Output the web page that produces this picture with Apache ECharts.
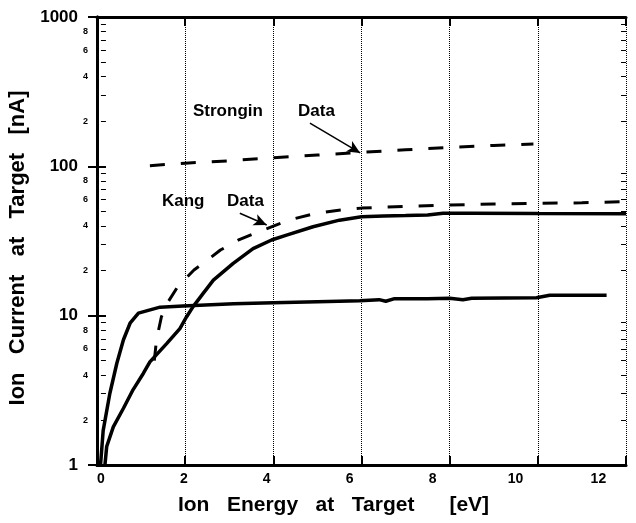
<!DOCTYPE html>
<html>
<head>
<meta charset="utf-8">
<script src="https://cdn.jsdelivr.net/npm/echarts@6/dist/echarts.min.js"></script>
<style>
  html, body { margin: 0; padding: 0; background: #fff; }
  #main { width: 636px; height: 523px; }
</style>
</head>
<body>
<div id="main"></div>
<script>
// solid curve that jumps up fast and levels off near 13 nA
const fastSolid = [
  [0.08, 1], [0.14, 1.7], [0.29, 3.0], [0.45, 4.8], [0.6, 6.9], [0.75, 8.9],
  [0.94, 10.4], [1.43, 11.4], [1.95, 11.6], [3.1, 12.0], [4.0, 12.2], [5.0, 12.4],
  [5.96, 12.6], [6.4, 12.8], [6.55, 12.5], [6.75, 13.0], [7.5, 13.0], [8.0, 13.1],
  [8.3, 12.8], [8.5, 13.1], [9.97, 13.2], [10.27, 13.7], [11.56, 13.7]
]
// solid curve that rises slowly to ~48 nA
const slowSolid = [
  [0.18, 1], [0.22, 1.33], [0.37, 1.8], [0.6, 2.4], [0.82, 3.2], [1.05, 4.1],
  [1.2, 4.9], [1.58, 6.5], [1.88, 8.2], [2.03, 9.8], [2.18, 11.5], [2.4, 14.0],
  [2.64, 17.3], [3.09, 22.4], [3.54, 28.1], [3.96, 32.1], [4.3, 34.6], [4.9, 39.4],
  [5.5, 43.6], [6.0, 45.9], [6.5, 46.5], [7.0, 46.8], [7.5, 47.3], [7.85, 48.5],
  [8.5, 48.5], [10, 48.3], [12, 48.2]
]
// Kang data (dashed)
const kangData = [
  [1.3, 5.0], [1.35, 6.9], [1.46, 9.8], [1.6, 12.2], [1.84, 15.8], [2.0, 17.6],
  [2.2, 20.2], [2.5, 23.5], [2.8, 27.5], [3.2, 32], [3.6, 35.8], [4.0, 39.8],
  [4.4, 44], [4.9, 48], [5.4, 50.5], [6.0, 52.5], [7, 54], [8, 55],
  [9, 56], [10, 56.5], [11, 57], [12, 58]
]
// Strongin data (dashed)
const stronginData = [
  [1.2, 101], [2, 105], [3, 109], [4, 114], [5, 119], [6, 124],
  [7, 129], [8, 134], [9, 138], [9.9, 141]
]

const xTicks = [0, 2, 4, 6, 8, 10, 12]
const yMajor = [1, 10, 100, 1000]
const yMinor = [2, 3, 4, 5, 6, 7, 8, 9, 20, 30, 40, 50, 60, 70, 80, 90, 200, 300, 400, 500, 600, 700, 800, 900]
const yMinorLabels = [2, 4, 6, 8, 20, 40, 60, 80, 200, 400, 600, 800]

// annotation arrows: [from, to] in data units
const stronginArrow = [[4.83, 195], [5.97, 123]]
const kangArrow = [[3.24, 48.5], [3.85, 40.5]]

const font = 'Liberation Sans, Arial, sans-serif'
const black = '#000'

let chart = echarts.init(document.getElementById('main'))

function logAxis(extra) {
  return Object.assign({
    type: 'log',
    logBase: 10,
    min: 1,
    max: 1000,
    splitLine: { show: false }
  }, extra)
}

function arrowLine(pts) {
  return {
    silent: true,
    symbol: ['none', 'arrow'],
    symbolSize: [9, 13],
    label: { show: false },
    lineStyle: { type: 'solid', color: black, width: 1.5 },
    emphasis: { disabled: true },
    data: [[{ coord: pts[0] }, { coord: pts[1] }]]
  }
}

function minorLabel(v) {
  let n = Math.round(v)
  return String(n).charAt(0)
}

let option = {
  animation: false,
  backgroundColor: '#fff',
  grid: {
    left: 97,
    right: 10,
    top: 17,
    bottom: 58,
    containLabel: false,
    outerBoundsMode: 'none'
  },
  xAxis: [
    {
      type: 'value',
      position: 'bottom',
      min: 0,
      max: 12,
      interval: 2,
      axisLine: { lineStyle: { color: black, width: 3 } },
      axisTick: { inside: true, length: 9, lineStyle: { color: black, width: 2 } },
      axisLabel: { show: false },
      splitLine: { show: true, lineStyle: { type: 'dotted', color: black, width: 1 } },
      name: 'Ion   Energy   at   Target      [eV]',
      nameLocation: 'middle',
      nameGap: 30,
      nameTextStyle: { fontFamily: font, fontWeight: 'bold', fontSize: 21, color: black, padding: [0, 56, 0, 0] }
    },
    {
      // tick labels, which sit slightly left of the tick marks in the original
      type: 'value',
      position: 'bottom',
      min: -0.095,
      max: 12.666,
      axisLine: { show: false },
      axisTick: { show: false },
      splitLine: { show: false },
      axisLabel: {
        customValues: xTicks,
        margin: 7,
        fontFamily: font,
        fontWeight: 'bold',
        fontSize: 14,
        color: black
      }
    },
    {
      type: 'value',
      position: 'top',
      min: 0,
      max: 12,
      interval: 2,
      axisLine: { lineStyle: { color: black, width: 3 } },
      axisTick: { inside: true, length: 9, lineStyle: { color: black, width: 2 } },
      axisLabel: { show: false },
      splitLine: { show: false }
    }
  ],
  yAxis: [
    logAxis({
      position: 'left',
      axisLine: { show: true, lineStyle: { color: black, width: 3 } },
      axisTick: { inside: true, length: 9, customValues: yMajor, lineStyle: { color: black, width: 2 } },
      axisLabel: {
        customValues: yMajor,
        margin: 19,
        fontFamily: font,
        fontWeight: 'bold',
        fontSize: 17,
        color: black,
        formatter: v => String(Math.round(v))
      },
      name: 'Ion   Current   at   Target   [nA]',
      nameLocation: 'middle',
      nameGap: 57,
      nameTextStyle: { fontFamily: font, fontWeight: 'bold', fontSize: 22, color: black, padding: [0, 14, 0, 0] }
    }),
    logAxis({
      position: 'left',
      axisLine: { show: false },
      axisTick: { inside: true, length: 5, customValues: yMinor, lineStyle: { color: black, width: 1 } },
      axisLabel: {
        customValues: yMinorLabels,
        margin: 9,
        fontFamily: font,
        fontWeight: 'bold',
        fontSize: 9,
        color: black,
        formatter: minorLabel
      }
    }),
    logAxis({
      position: 'right',
      axisLine: { show: true, lineStyle: { color: black, width: 3 } },
      axisTick: { inside: true, length: 9, customValues: yMajor, lineStyle: { color: black, width: 2 } },
      axisLabel: { show: false }
    }),
    logAxis({
      position: 'right',
      axisLine: { show: false },
      axisTick: { inside: true, length: 5, customValues: yMinor, lineStyle: { color: black, width: 1 } },
      axisLabel: { show: false }
    })
  ],
  series: [
    {
      name: 'fast',
      type: 'line',
      data: fastSolid,
      showSymbol: false,
      lineStyle: { color: black, width: 3.5 },
      z: 3
    },
    {
      name: 'slow',
      type: 'line',
      data: slowSolid,
      showSymbol: false,
      lineStyle: { color: black, width: 3.5 },
      z: 3
    },
    {
      name: 'Kang Data',
      type: 'line',
      data: kangData,
      showSymbol: false,
      lineStyle: { color: black, width: 3, type: [15, 16] },
      markLine: arrowLine(kangArrow),
      z: 3
    },
    {
      name: 'Strongin Data',
      type: 'line',
      data: stronginData,
      showSymbol: false,
      lineStyle: { color: black, width: 3, type: [15, 16] },
      markLine: arrowLine(stronginArrow),
      z: 3
    }
  ],
  graphic: [
    { type: 'text', left: 193, top: 103, style: { text: 'Strongin', font: 'bold 17px ' + font, fill: black } },
    { type: 'text', left: 298, top: 103, style: { text: 'Data', font: 'bold 17px ' + font, fill: black } },
    { type: 'text', left: 162, top: 193, style: { text: 'Kang', font: 'bold 17px ' + font, fill: black } },
    { type: 'text', left: 227, top: 193, style: { text: 'Data', font: 'bold 17px ' + font, fill: black } }
  ]
}

chart.setOption(option)
</script>
</body>
</html>
